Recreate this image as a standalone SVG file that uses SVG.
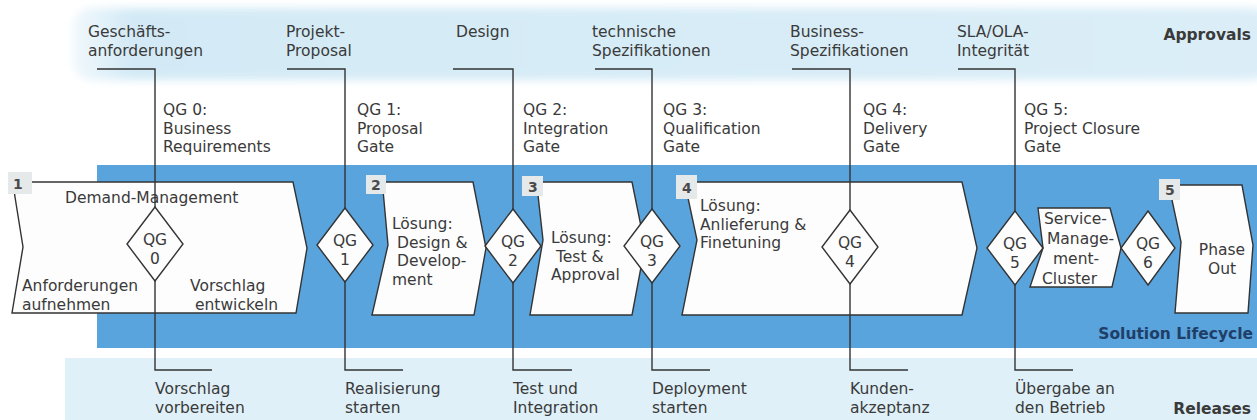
<svg xmlns="http://www.w3.org/2000/svg" width="1257" height="420" viewBox="0 0 1257 420">
<defs>
<linearGradient id="topg" x1="0" y1="0" x2="1" y2="0">
<stop offset="0" stop-color="#d3eaf6" stop-opacity="0.3"/>
<stop offset="0.05" stop-color="#d3eaf6"/>
<stop offset="1" stop-color="#dbeef8"/>
</linearGradient>
<filter id="soft" x="-5%" y="-30%" width="110%" height="160%"><feGaussianBlur stdDeviation="4"/></filter>
<style>
text{font-family:"DejaVu Sans","Liberation Sans",sans-serif;font-size:15.5px;fill:#3a3a3a}
.b{font-weight:bold}
.num{font-weight:bold;font-size:14px;fill:#4a4a4a}
.shape{fill:#fdfdfd;stroke:#333;stroke-width:1.4;stroke-linejoin:miter}
.dia{fill:#fdfdfd;stroke:#333;stroke-width:1.4}
.box{fill:#e6e9ea}
.conn{fill:none;stroke:#333;stroke-width:1.4}
.c{text-anchor:middle}
.r{text-anchor:end}
</style>
</defs>
<g id="bands">
<rect x="72" y="8" width="1200" height="72" rx="20" fill="url(#topg)" filter="url(#soft)"/>
<rect x="97" y="165" width="1160" height="183" fill="#5aa4dd"/>
<rect x="65" y="358" width="1192" height="62" fill="#dff0f8"/>
</g>
<g id="lane-labels">
<text class="b r" x="1251" y="40">Approvals</text>
<text class="b r" x="1253" y="339" style="fill:#1f3f68">Solution Lifecycle</text>
<text class="b r" x="1251" y="414">Releases</text>
</g>
<g id="phase1">
<polygon class="shape" points="13,182 293,182 307,248 296,313 12,313 23,247 15,197"/>
<rect class="box" x="8" y="172" width="24" height="22"/>
<text class="num" x="13" y="189">1</text>
<text x="65" y="203">Demand-Management</text>
<text x="22" y="291">Anforderungen</text>
<text x="22" y="309.5">aufnehmen</text>
<text x="190" y="291">Vorschlag</text>
<text x="195" y="309.5">entwickeln</text>
</g>
<g id="phase2">
<polygon class="shape" points="383,182 473,182 486,248 474,315 372,315 388,245 383,190"/>
<rect class="box" x="366" y="175" width="20" height="19"/>
<text class="num" x="371" y="190">2</text>
<text x="392" y="229">Lösung:</text>
<text x="397" y="247.5">Design &amp;</text>
<text x="397" y="266">Develop-</text>
<text x="392" y="284.5">ment</text>
</g>
<g id="phase3">
<polygon class="shape" points="538,182 632,182 645,246 632,315 530,315 543,240 538,195"/>
<rect class="box" x="522" y="176" width="21" height="20"/>
<text class="num" x="528" y="192">3</text>
<text x="551" y="243">Lösung:</text>
<text x="556" y="261.5">Test &amp;</text>
<text x="551" y="280">Approval</text>
</g>
<g id="phase4">
<polygon class="shape" points="688,182 962,182 977,248 962,315 682,315 697,240 688,198"/>
<rect class="box" x="676" y="175" width="21" height="24"/>
<text class="num" x="682" y="193">4</text>
<text x="700" y="211">Lösung:</text>
<text x="700" y="229.5">Anlieferung &amp;</text>
<text x="700" y="248">Finetuning</text>
</g>
<g id="service-management">
<polygon class="shape" points="1038,208 1110,208 1121,248 1112,287 1030,287 1043,248"/>
<text x="1044" y="224">Service-</text>
<text x="1047" y="244">Manage-</text>
<text x="1053" y="264">ment-</text>
<text x="1042" y="284">Cluster</text>
</g>
<g id="phase5">
<polygon class="shape" points="1172,185 1242,185 1253,245 1248,313 1175,313 1181,242 1172,200"/>
<rect class="box" x="1159" y="179" width="21" height="21"/>
<text class="num" x="1165" y="195">5</text>
<text class="c" x="1222" y="255">Phase</text>
<text class="c" x="1222" y="274">Out</text>
</g>
<g id="connectors">
<path class="conn" d="M97,69 H155 V370 H212"/>
<path class="conn" d="M287,69 H345 V370 H403"/>
<path class="conn" d="M453,69 H513 V370 H572"/>
<path class="conn" d="M595,69 H652 V370 H710"/>
<path class="conn" d="M792,69 H850 V370 H908"/>
<path class="conn" d="M958,69 H1015 V370 H1073"/>
</g>
<g id="gate0">
<polygon class="dia" points="155,207 183,244 155,281 127,244"/>
<text class="c" x="155" y="245">QG</text>
<text class="c" x="155" y="264">0</text>
<text x="88" y="37">Geschäfts-</text>
<text x="88" y="55.5">anforderungen</text>
<text x="163" y="115">QG 0:</text>
<text x="163" y="133.5">Business</text>
<text x="163" y="152">Requirements</text>
<text x="155" y="394">Vorschlag</text>
<text x="155" y="412.5">vorbereiten</text>
</g>
<g id="gate1">
<polygon class="dia" points="345,208 373,245 345,282 317,245"/>
<text class="c" x="345" y="246">QG</text>
<text class="c" x="345" y="265">1</text>
<text x="286" y="37">Projekt-</text>
<text x="286" y="55.5">Proposal</text>
<text x="357" y="115">QG 1:</text>
<text x="357" y="133.5">Proposal</text>
<text x="357" y="152">Gate</text>
<text x="345" y="394">Realisierung</text>
<text x="345" y="412.5">starten</text>
</g>
<g id="gate2">
<polygon class="dia" points="513,209 541,246 513,283 485,246"/>
<text class="c" x="513" y="247">QG</text>
<text class="c" x="513" y="266">2</text>
<text x="456" y="37">Design</text>
<text x="523" y="115">QG 2:</text>
<text x="523" y="133.5">Integration</text>
<text x="523" y="152">Gate</text>
<text x="513" y="394">Test und</text>
<text x="513" y="412.5">Integration</text>
</g>
<g id="gate3">
<polygon class="dia" points="652,209 680,246 652,283 624,246"/>
<text class="c" x="652" y="247">QG</text>
<text class="c" x="652" y="266">3</text>
<text x="592" y="37">technische</text>
<text x="592" y="55.5">Spezifikationen</text>
<text x="663" y="115">QG 3:</text>
<text x="663" y="133.5">Qualification</text>
<text x="663" y="152">Gate</text>
<text x="652" y="394">Deployment</text>
<text x="652" y="412.5">starten</text>
</g>
<g id="gate4">
<polygon class="dia" points="850,210 878,247 850,284 822,247"/>
<text class="c" x="850" y="248">QG</text>
<text class="c" x="850" y="267">4</text>
<text x="790" y="37">Business-</text>
<text x="790" y="55.5">Spezifikationen</text>
<text x="863" y="115">QG 4:</text>
<text x="863" y="133.5">Delivery</text>
<text x="863" y="152">Gate</text>
<text x="850" y="394">Kunden-</text>
<text x="850" y="412.5">akzeptanz</text>
</g>
<g id="gate5">
<polygon class="dia" points="1015,211 1043,248 1015,285 987,248"/>
<text class="c" x="1015" y="249">QG</text>
<text class="c" x="1015" y="268">5</text>
<text x="957" y="37">SLA/OLA-</text>
<text x="957" y="55.5">Integrität</text>
<text x="1024" y="115">QG 5:</text>
<text x="1024" y="133.5">Project Closure</text>
<text x="1024" y="152">Gate</text>
<text x="1015" y="394">Übergabe an</text>
<text x="1015" y="412.5">den Betrieb</text>
</g>
<g id="gate6">
<polygon class="dia" points="1148,211 1175,248 1148,285 1121,248"/>
<text class="c" x="1148" y="249">QG</text>
<text class="c" x="1148" y="268">6</text>
</g>
</svg>
